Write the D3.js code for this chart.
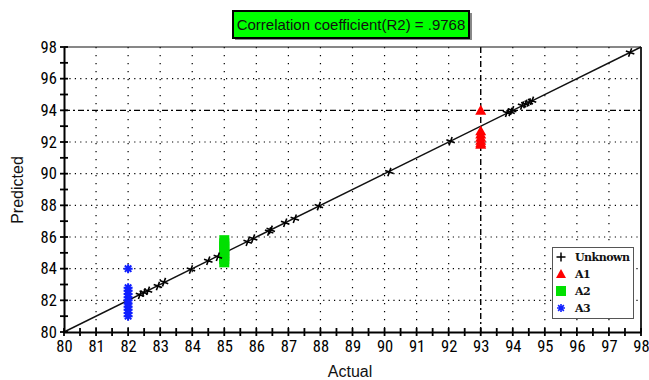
<!DOCTYPE html>
<html>
<head>
<meta charset="utf-8">
<script src="https://cdn.jsdelivr.net/npm/d3@7"></script>
<style>
  body { margin: 0; background: #fff; }
  svg { display: block; }
</style>
</head>
<body>
<svg id="chart" width="649" height="380"></svg>
<script>
// ---- data ----
const unknownActual    = [82.37, 82.49, 82.62, 82.93, 83.12, 83.96, 84.50, 84.80, 85.73, 85.90, 86.40, 86.45, 86.90, 87.20, 87.95, 90.15, 92.06, 93.82, 93.93, 93.98, 94.29, 94.39, 94.50, 94.60, 97.66];
const unknownPredicted = [82.35, 82.50, 82.60, 82.90, 83.15, 83.95, 84.50, 84.75, 85.70, 85.90, 86.35, 86.45, 86.90, 87.15, 87.95, 90.10, 92.05, 93.85, 93.90, 94.00, 94.30, 94.40, 94.50, 94.60, 97.65];
const a1Actual    = [93, 93, 93, 93, 93, 93, 93];
const a1Predicted = [94.0, 92.7, 92.5, 92.3, 92.1, 91.95, 91.85];
const a2Actual    = [85, 85, 85, 85, 85, 85, 85, 85];
const a2Predicted = [84.4, 84.6, 84.8, 85.0, 85.2, 85.4, 85.6, 85.8];
const a3Actual    = [82, 82, 82, 82, 82, 82, 82, 82, 82, 82, 82];
const a3Predicted = [84.0, 82.8, 82.6, 82.4, 82.2, 82.0, 81.8, 81.6, 81.4, 81.2, 81.0];
const xTicks = [80, 81, 82, 83, 84, 85, 86, 87, 88, 89, 90, 91, 92, 93, 94, 95, 96, 97, 98];
const yTicks = [80, 82, 84, 86, 88, 90, 92, 94, 96, 98];
const refX = 93, refY = 94;
const titleText = "Correlation coefficient(R2) = .9768";
const legendNames = ["Unknown", "A1", "A2", "A3"];

// ---- layout ----
const svg = d3.select("#chart");
const L = 64, R = 641, T = 47, B = 332;
const x = d3.scaleLinear().domain([80, 98]).range([L, R]);
const y = d3.scaleLinear().domain([80, 98]).range([B, T]);
const tickFont = "'Liberation Sans Narrow', 'Roboto Condensed', 'DejaVu Sans Condensed', 'Liberation Sans', Arial, sans-serif";

// grid
const grid = svg.append("g");
grid.selectAll("line.vx").data(xTicks.filter(d => d > 80 && d < 98 && d !== refX)).join("line")
  .attr("x1", d => x(d)).attr("x2", d => x(d)).attr("y1", T).attr("y2", B)
  .attr("stroke", "#000").attr("stroke-width", 1.2).attr("stroke-dasharray", "1.2,6.8");
grid.selectAll("line.hy").data(yTicks.filter(d => d > 80 && d < 98 && d !== refY)).join("line")
  .attr("x1", L).attr("x2", R).attr("y1", d => y(d)).attr("y2", d => y(d))
  .attr("stroke", "#000").attr("stroke-width", 1.2).attr("stroke-dasharray", "1.2,4.2");

// reference dash-dot lines
svg.append("line").attr("x1", x(refX)).attr("x2", x(refX)).attr("y1", T).attr("y2", B)
  .attr("stroke", "#000").attr("stroke-width", 1.4).attr("stroke-dasharray", "6,3,2,3");
svg.append("line").attr("x1", L).attr("x2", R).attr("y1", y(refY)).attr("y2", y(refY))
  .attr("stroke", "#000").attr("stroke-width", 1.4).attr("stroke-dasharray", "6,3,2,3");

// frame
svg.append("line").attr("x1", L).attr("x2", R).attr("y1", T).attr("y2", T).attr("stroke", "#111").attr("stroke-width", 1.2);
svg.append("line").attr("x1", R).attr("x2", R).attr("y1", T).attr("y2", B).attr("stroke", "#111").attr("stroke-width", 1.8);

// diagonal
svg.append("line").attr("x1", x(80)).attr("y1", y(80)).attr("x2", x(98)).attr("y2", y(98))
  .attr("stroke", "#111").attr("stroke-width", 1.4);

// axes
const xAxis = d3.axisBottom(x).tickValues(xTicks).tickSize(0).tickFormat(d3.format("d"));
const gx = svg.append("g").attr("transform", `translate(0,${B})`).call(xAxis);
gx.select(".domain").attr("stroke", "#000").attr("stroke-width", 2);
gx.selectAll("text").attr("font-family", tickFont).attr("font-size", 16.5).attr("fill", "#000").attr("dy", "1.0em");
const xMinor = d3.range(80, 98.01, 0.5);
svg.append("g").selectAll("line").data(xMinor).join("line")
  .attr("x1", d => x(d)).attr("x2", d => x(d)).attr("y1", B - 4).attr("y2", B + 4)
  .attr("stroke", "#000").attr("stroke-width", 1.8);

const yAxis = d3.axisLeft(y).tickValues(yTicks).tickSize(0).tickFormat(d3.format("d"));
const gy = svg.append("g").attr("transform", `translate(${L},0)`).call(yAxis);
gy.select(".domain").attr("stroke", "#000").attr("stroke-width", 2);
gy.selectAll("text").attr("font-family", tickFont).attr("font-size", 16.5).attr("fill", "#000").attr("dx", "-0.25em");
const yMinor = d3.range(80, 98.01, 1);
svg.append("g").selectAll("line").data(yMinor).join("line")
  .attr("x1", L - 4).attr("x2", L + 4).attr("y1", d => y(d)).attr("y2", d => y(d))
  .attr("stroke", "#000").attr("stroke-width", 1.8);

// axis titles
svg.append("text").attr("x", 350).attr("y", 377).attr("text-anchor", "middle")
  .attr("font-family", "'Liberation Sans', Arial, sans-serif").attr("font-size", 16).attr("fill", "#111").text("Actual");
svg.append("text").attr("transform", "translate(23,190) rotate(-90)").attr("text-anchor", "middle")
  .attr("font-family", "'Liberation Sans', Arial, sans-serif").attr("font-size", 16).attr("fill", "#111").text("Predicted");

// markers
const plusPath = s => `M${-s},0H${s}M0,${-s}V${s}`;
const starPath = s => { const d = s * 0.72; return `M${-s},0H${s}M0,${-s}V${s}M${-d},${-d}L${d},${d}M${-d},${d}L${d},${-d}`; };
const triPath = s => `M0,${-s}L${s},${s * 0.8}L${-s},${s * 0.8}Z`;

const zip = (a, b) => a.map((v, i) => [v, b[i]]);

svg.append("g").selectAll("path").data(zip(a2Actual, a2Predicted)).join("path")
  .attr("transform", d => `translate(${x(d[0])},${y(d[1])})`)
  .attr("d", "M-5,-5H5V5H-5Z").attr("fill", "#00e000");
svg.append("g").selectAll("path").data(zip(a1Actual, a1Predicted)).join("path")
  .attr("transform", d => `translate(${x(d[0])},${y(d[1])})`)
  .attr("d", triPath(5.5)).attr("fill", "#ff0000");
svg.append("g").selectAll("path").data(zip(a3Actual, a3Predicted)).join("path")
  .attr("transform", d => `translate(${x(d[0])},${y(d[1])})`)
  .attr("d", starPath(4.5)).attr("stroke", "#1020ff").attr("stroke-width", 2).attr("fill", "none");
svg.append("g").selectAll("path").data(zip(unknownActual, unknownPredicted)).join("path")
  .attr("transform", d => `translate(${x(d[0])},${y(d[1])}) rotate(20)`)
  .attr("d", plusPath(4.5)).attr("stroke", "#000").attr("stroke-width", 1.6).attr("fill", "none");

// legend
const lg = svg.append("g");
lg.append("rect").attr("x", 552.5).attr("y", 247.5).attr("width", 81).attr("height", 71)
  .attr("fill", "#fff").attr("stroke", "#555").attr("stroke-width", 1);
const legendY = [257, 274, 291, 308];
const legendMark = [
  g => g.append("path").attr("d", plusPath(4.5)).attr("stroke", "#000").attr("stroke-width", 1.5),
  g => g.append("path").attr("d", triPath(5)).attr("fill", "#ff0000"),
  g => g.append("path").attr("d", "M-5,-5H5V5H-5Z").attr("fill", "#00e000"),
  g => g.append("path").attr("d", starPath(4)).attr("stroke", "#1020ff").attr("stroke-width", 1.6).attr("fill", "none")
];
legendNames.forEach((name, i) => {
  const g = lg.append("g").attr("transform", `translate(561,${legendY[i]})`);
  legendMark[i](g);
  lg.append("text").attr("x", 575).attr("y", legendY[i] + 4).attr("font-family", "'DejaVu Serif', serif")
    .attr("font-size", 11).attr("font-weight", "bold").attr("letter-spacing", "-0.5").attr("fill", "#111").text(name);
});

// title box
const tg = svg.append("g");
tg.append("rect").attr("x", 235).attr("y", 13).attr("width", 237).attr("height", 27).attr("fill", "#888");
tg.append("rect").attr("x", 233).attr("y", 11).attr("width", 236).attr("height", 27)
  .attr("fill", "#00ff00").attr("stroke", "#000").attr("stroke-width", 2);
tg.append("text").attr("x", 351).attr("y", 30).attr("text-anchor", "middle")
  .attr("font-family", "'Liberation Sans', Arial, sans-serif").attr("font-size", 15).attr("fill", "#111").text(titleText);
</script>
</body>
</html>
